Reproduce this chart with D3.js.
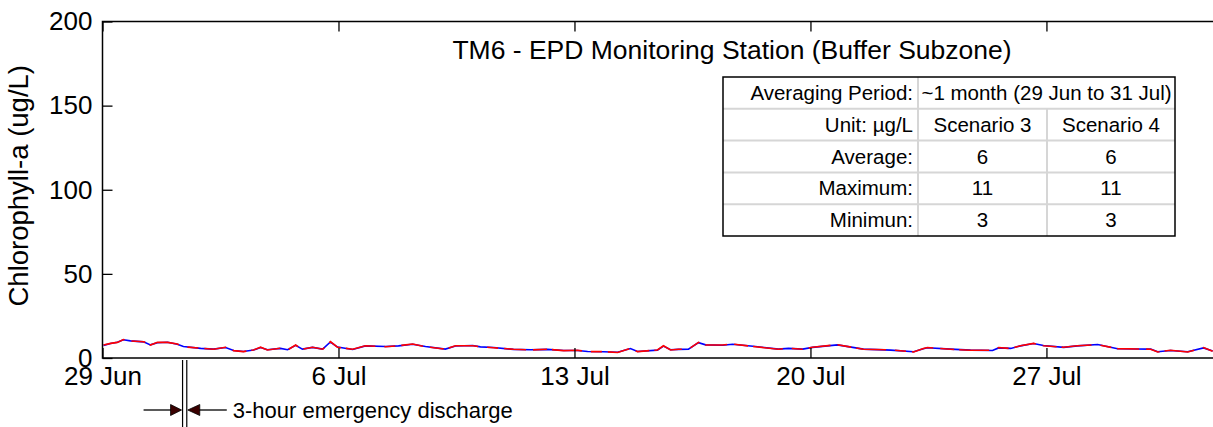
<!DOCTYPE html>
<html>
<head>
<meta charset="utf-8">
<script src="https://cdn.jsdelivr.net/npm/d3@7"></script>
<style>
  body { margin: 0; background: #fff; }
  svg { display: block; font-family: "Liberation Sans", Arial, sans-serif; }
</style>
</head>
<body>
<div id="chart"></div>
<script>

// days after 29 Jun 00:00
var days = [0.03,0.24,0.44,0.62,0.83,1.22,1.42,1.63,1.93,2.22,
  2.40,2.91,3.29,3.65,3.89,4.18,4.48,4.69,4.89,5.28,
  5.49,5.73,5.93,6.23,6.53,6.76,6.97,7.42,7.80,8.40,
  8.78,9.20,9.58,10.17,10.47,10.98,11.21,11.60,12.19,12.70,
  13.20,13.68,14.09,14.39,14.86,15.28,15.66,15.87,16.46,16.64,
  16.85,17.09,17.38,17.68,17.89,18.39,18.69,19.37,20.05,20.35,
  20.77,21.06,21.80,22.57,23.38,24.06,24.35,24.47,25.16,25.75,
  26.40,26.58,26.94,27.23,27.62,27.91,28.51,28.92,29.52,30.11,
  31.09,31.30,31.68,32.19,32.66,32.93];

var scenario3 = [7.5,8.6,9.4,10.8,10.2,9.6,7.8,9.1,9.4,8.2,
  6.8,5.7,5.3,6.2,4.5,3.9,4.7,6.2,4.9,5.7,
  4.9,7.5,5.3,6.3,5.3,9.5,6.5,5.1,7.2,6.8,
  7.2,8.2,6.8,5.3,7.1,7.4,6.6,6.2,5.1,4.9,
  5.1,4.5,4.5,3.9,3.7,3.4,5.6,3.9,4.7,7.1,
  4.9,5.1,5.3,9.1,7.8,7.6,8.2,6.8,5.3,5.7,
  5.3,6.3,7.8,5.3,4.7,3.7,5.5,6.1,5.3,4.7,
  4.5,6.0,5.7,7.2,8.6,7.4,6.3,7.2,8.0,5.5,
  5.3,3.7,4.5,3.7,6.0,4.1];

var scenario4 = [7.7,8.7,9.3,11.0,10.1,9.7,7.7,9.3,9.3,8.3,
  6.7,5.8,5.2,6.4,4.4,3.8,4.8,6.4,4.8,5.8,
  4.8,7.7,5.2,6.4,5.2,9.7,6.4,5.2,7.3,6.7,
  7.3,8.3,6.7,5.2,7.3,7.3,6.7,6.1,5.2,4.8,
  5.2,4.4,4.6,3.8,3.8,3.3,5.8,3.8,4.8,7.3,
  4.8,5.2,5.2,9.3,7.7,7.7,8.3,6.7,5.2,5.8,
  5.2,6.4,7.9,5.2,4.8,3.6,5.6,6.2,5.2,4.6,
  4.6,6.2,5.6,7.3,8.7,7.3,6.4,7.3,7.9,5.6,
  5.2,3.6,4.6,3.6,6.2,4.0];

var yTicks = [0, 50, 100, 150, 200];
var xTickDates = ['2015-06-29', '2015-07-06', '2015-07-13', '2015-07-20', '2015-07-27'];
var discharge = ['2015-07-01T09:00', '2015-07-01T12:00'];

var tableRows = [
  ['Averaging Period:', '~1 month (29 Jun to 31 Jul)'],
  ['Unit: \u00b5g/L', 'Scenario 3', 'Scenario 4'],
  ['Average:', '6', '6'],
  ['Maximum:', '11', '11'],
  ['Minimun:', '3', '3']
];

var title = 'TM6 - EPD Monitoring Station (Buffer Subzone)';
var yLabel = 'Chlorophyll-a (ug/L)';
var note = '3-hour emergency discharge';

var width = 1213, height = 427;
var plotLeft = 102.5, plotRight = 1215, plotTop = 21.5, plotBottom = 358;

var parseDay = d3.utcParse('%Y-%m-%d');
var parseHour = d3.utcParse('%Y-%m-%dT%H:%M');
var start = parseDay('2015-06-29');
var end = parseDay('2015-08-01');

var toDate = (d) => new Date(start.getTime() + d * 864e5);

var svg = d3.select('#chart').append('svg')
  .attr('width', width)
  .attr('height', height);

var x = d3.scaleUtc().domain([start, end]).range([plotLeft, plotRight]);
var y = d3.scaleLinear().domain([0, 200]).range([plotBottom, plotTop]);

svg.append('clipPath').attr('id', 'clip')
  .append('rect')
  .attr('x', plotLeft).attr('y', plotTop)
  .attr('width', plotRight - plotLeft).attr('height', plotBottom - plotTop);

// blue first, red on top; red is broken up a bit so the blue shows through like the original plot
var line = d3.line()
  .x((d) => x(toDate(d[0])))
  .y((d) => y(d[1]));

var series = [
  {values: scenario3, color: '#0000ff', dash: null},
  {values: scenario4, color: '#ff0000', dash: '22,7,14,5,30,9,11,6'}
];

series.forEach(function(s) {
  svg.append('path')
    .datum(days.map((d, i) => [d, s.values[i]]))
    .attr('clip-path', 'url(#clip)')
    .attr('fill', 'none')
    .attr('stroke', s.color)
    .attr('stroke-width', 1.6)
    .attr('stroke-dasharray', s.dash)
    .attr('d', line);
});

// frame
svg.append('rect')
  .attr('x', plotLeft).attr('y', plotTop)
  .attr('width', plotRight - plotLeft).attr('height', plotBottom - plotTop)
  .attr('fill', 'none')
  .attr('stroke', '#000')
  .attr('stroke-width', 1.5);

var xTicks = xTickDates.map(parseDay);

var bottomAxis = svg.append('g')
  .attr('transform', 'translate(0,' + plotBottom + ')')
  .call(d3.axisBottom(x).tickValues(xTicks).tickFormat(d3.utcFormat('%-d %b')).tickSizeInner(-10).tickSizeOuter(0).tickPadding(8));

var topAxis = svg.append('g')
  .attr('transform', 'translate(0,' + plotTop + ')')
  .call(d3.axisTop(x).tickValues(xTicks).tickFormat('').tickSizeInner(-10).tickSizeOuter(0));

var leftAxis = svg.append('g')
  .attr('transform', 'translate(' + plotLeft + ',0)')
  .call(d3.axisLeft(y).tickValues(yTicks).tickSizeInner(-10).tickSizeOuter(0).tickPadding(10));

[bottomAxis, topAxis, leftAxis].forEach(function(g) {
  g.select('.domain').remove();
  g.selectAll('line').attr('stroke', '#000').attr('stroke-width', 1.3);
  g.selectAll('text').attr('fill', '#000').style('font-size', '26px').style('font-family', '"Liberation Sans", Arial, sans-serif');
});
bottomAxis.selectAll('text').attr('dy', '0.72em');

// title
svg.append('text')
  .attr('x', 732).attr('y', 59)
  .attr('text-anchor', 'middle')
  .style('font-size', '26.5px')
  .text(title);

// y label
svg.append('text')
  .attr('transform', 'translate(28,' + ((plotTop + plotBottom) / 2 - 4) + ') rotate(-90)')
  .attr('text-anchor', 'middle')
  .style('font-size', '27.5px')
  .text(yLabel);

// stats table
var tx = [723, 918, 1047, 1175];
var ty0 = 77, rowH = 31.8;
var table = svg.append('g');

table.append('rect')
  .attr('x', tx[0]).attr('y', ty0)
  .attr('width', tx[3] - tx[0]).attr('height', rowH * tableRows.length)
  .attr('fill', '#fff');

tableRows.forEach(function(row, i) {
  var ry = ty0 + i * rowH;
  if (i > 0) {
    table.append('line')
      .attr('x1', tx[0]).attr('x2', tx[3])
      .attr('y1', ry).attr('y2', ry)
      .attr('stroke', '#d6d6d6').attr('stroke-width', 2);
  }
  table.append('line')
    .attr('x1', tx[1]).attr('x2', tx[1])
    .attr('y1', ry).attr('y2', ry + rowH)
    .attr('stroke', '#d6d6d6').attr('stroke-width', 2);
  if (row.length > 2) {
    table.append('line')
      .attr('x1', tx[2]).attr('x2', tx[2])
      .attr('y1', ry).attr('y2', ry + rowH)
      .attr('stroke', '#d6d6d6').attr('stroke-width', 2);
  }

  var cy = ry + rowH / 2 + 7;
  table.append('text')
    .attr('x', tx[1] - 5).attr('y', cy)
    .attr('text-anchor', 'end')
    .style('font-size', '20.5px')
    .text(row[0]);

  if (row.length == 2) {
    table.append('text')
      .attr('x', (tx[1] + tx[3]) / 2).attr('y', cy)
      .attr('text-anchor', 'middle')
      .style('font-size', '20.5px')
      .text(row[1]);
  } else {
    [1, 2].forEach(function(j) {
      table.append('text')
        .attr('x', (tx[j] + tx[j + 1]) / 2).attr('y', cy)
        .attr('text-anchor', 'middle')
        .style('font-size', '20.5px')
        .text(row[j]);
    });
  }
});

table.append('rect')
  .attr('x', tx[0]).attr('y', ty0)
  .attr('width', tx[3] - tx[0]).attr('height', rowH * tableRows.length)
  .attr('fill', 'none')
  .attr('stroke', '#000')
  .attr('stroke-width', 1.5);

// discharge marker
var d0 = x(parseHour(discharge[0]));
var d1 = x(parseHour(discharge[1]));
var ay = 410;

[d0, d1].forEach(function(px) {
  svg.append('line')
    .attr('x1', px).attr('x2', px)
    .attr('y1', 360).attr('y2', height)
    .attr('stroke', '#000').attr('stroke-width', 1.2);
});

svg.append('line')
  .attr('x1', d0 - 39).attr('x2', d0 - 11)
  .attr('y1', ay).attr('y2', ay)
  .attr('stroke', '#000').attr('stroke-width', 1.3);
svg.append('path')
  .attr('d', 'M' + (d0 - 12) + ',' + (ay - 5.5) + 'L' + (d0 - 1) + ',' + ay + 'L' + (d0 - 12) + ',' + (ay + 5.5) + 'Z')
  .attr('fill', '#3a0000').attr('stroke', '#000').attr('stroke-width', 0.8);

svg.append('line')
  .attr('x1', d1 + 12).attr('x2', d1 + 40)
  .attr('y1', ay).attr('y2', ay)
  .attr('stroke', '#000').attr('stroke-width', 1.3);
svg.append('path')
  .attr('d', 'M' + (d1 + 13) + ',' + (ay - 5.5) + 'L' + (d1 + 1) + ',' + ay + 'L' + (d1 + 13) + ',' + (ay + 5.5) + 'Z')
  .attr('fill', '#3a0000').attr('stroke', '#000').attr('stroke-width', 0.8);

svg.append('text')
  .attr('x', d1 + 46).attr('y', ay + 8)
  .style('font-size', '22px')
  .text(note);

</script>
</body>
</html>
